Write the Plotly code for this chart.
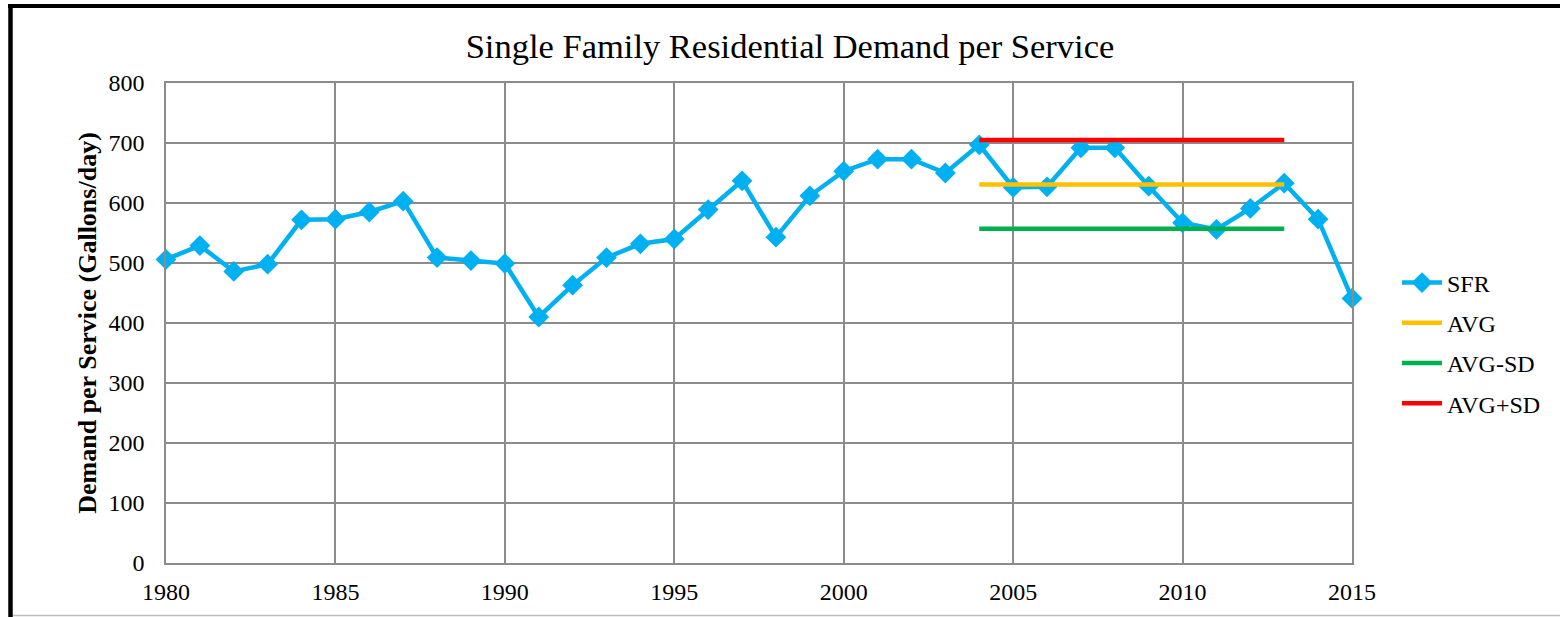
import plotly.graph_objects as go

years = list(range(1980, 2016))
sfr = [506, 529, 486, 498, 572, 573, 585, 603, 509, 504,
       499, 410, 463, 509, 532, 540, 589, 637, 543, 612,
       653, 673, 673, 650, 697, 626, 627, 692, 692, 628,
       567, 556, 591, 633, 573, 441]
band_years = [2004, 2013]
avg = [631, 631]
avg_minus_sd = [557, 557]
avg_plus_sd = [705, 705]

x_ticks = [1980, 1985, 1990, 1995, 2000, 2005, 2010, 2015]
y_ticks = [0, 100, 200, 300, 400, 500, 600, 700, 800]

W, H = 1560, 617
L, R, T, B = 166, 1352, 83, 563
pw, ph = R - L, B - T

def px(xp):
    return (xp - L) / pw

def py(yp):
    return (B - yp) / ph

serif = "Liberation Serif, Times New Roman, serif"

fig = go.Figure()
fig.add_trace(go.Scatter(
    x=years, y=sfr, name="SFR", mode="lines+markers", legendgroup="a",
    line=dict(color="#00B0F0", width=4.5),
    marker=dict(symbol="diamond", size=16, color="#00B0F0"),
    cliponaxis=False,
))
fig.add_trace(go.Scatter(x=band_years, y=avg, name="AVG", mode="lines", legendgroup="b",
                         line=dict(color="#FFC000", width=4.5)))
fig.add_trace(go.Scatter(x=band_years, y=avg_minus_sd, name="AVG-SD", mode="lines",
                         legendgroup="c", line=dict(color="#00B050", width=4.5)))
fig.add_trace(go.Scatter(x=band_years, y=avg_plus_sd, name="AVG+SD", mode="lines",
                         legendgroup="d", line=dict(color="#FF0000", width=4.5)))

grid = "#8c8c8c"
fig.update_layout(
    width=W, height=H,
    margin=dict(l=L, r=W - R, t=T, b=H - B),
    paper_bgcolor="white", plot_bgcolor="white",
    font=dict(family=serif, size=24, color="black"),
    title=dict(text="Single Family Residential Demand per Service",
               x=790 / W, xref="container", xanchor="center",
               y=1 - 46 / H, yref="container", yanchor="middle",
               font=dict(family=serif, size=34.5, color="black")),
    xaxis=dict(range=[1980, 2015], tickvals=x_ticks, showgrid=True,
               gridcolor=grid, gridwidth=1.5, showline=True, linecolor=grid,
               linewidth=1.5, mirror=True, ticks="", zeroline=False,
               ticklabelstandoff=6,
               tickfont=dict(family=serif, size=24)),
    yaxis=dict(range=[0, 800], tickvals=y_ticks, showgrid=True,
               gridcolor=grid, gridwidth=1.5, showline=True, linecolor=grid,
               linewidth=1.5, mirror=True, ticks="", zeroline=False,
               ticklabelstandoff=15,
               tickfont=dict(family=serif, size=24),
               title=dict(text="<b>Demand per Service (Gallons/day)</b>",
                          font=dict(family=serif, size=26), standoff=4)),
    legend=dict(x=px(1397), xanchor="left", y=py(343), yanchor="middle",
                font=dict(family=serif, size=24), bgcolor="rgba(0,0,0,0)",
                traceorder="grouped", tracegroupgap=6, itemwidth=40),
    showlegend=True,
    shapes=[
        dict(type="line", xref="paper", yref="paper",
             x0=px(8), x1=px(1562), y0=py(6), y1=py(6),
             line=dict(color="black", width=4)),
        dict(type="line", xref="paper", yref="paper",
             x0=px(10.5), x1=px(10.5), y0=py(4), y1=py(620),
             line=dict(color="black", width=4.5)),
        dict(type="line", xref="paper", yref="paper",
             x0=px(13), x1=px(1562), y0=py(615.5), y1=py(615.5),
             line=dict(color="#bdbdbd", width=1.5)),
    ],
)

fig.write_html("out.html", config={"displayModeBar": False},
               post_script="document.body.style.margin='0';document.body.style.overflow='hidden';")
